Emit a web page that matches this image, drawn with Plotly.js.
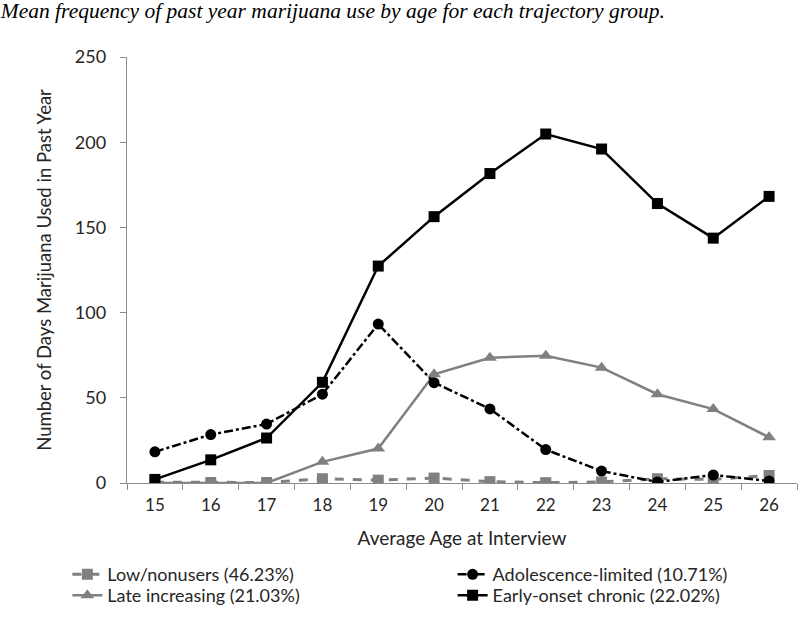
<!DOCTYPE html>
<html>
<head>
<meta charset="utf-8">
<script src="https://cdn.plot.ly/plotly-3.0.1.min.js"></script>
<style>
  html, body { margin: 0; padding: 0; background: #fff; }
  #chart { width: 800px; height: 617px; }
</style>
</head>
<body>
<div id="chart"></div>
<script>
const ages = [15, 16, 17, 18, 19, 20, 21, 22, 23, 24, 25, 26];
const lowNonusers = [0.5, 0.3, 0.3, 2.5, 1.7, 2.9, 0.8, 0.2, 0.6, 2.5, 2.1, 4.4];
const lateIncreasing = [0, 0, 0, 12.4, 20.2, 63.8, 73.5, 74.7, 67.7, 52.1, 43.4, 26.8];
const adolescenceLimited = [18.3, 28.4, 34.6, 52.1, 93.3, 58.9, 43.5, 19.6, 7.0, 0.6, 4.7, 1.2];
const earlyOnsetChronic = [2.1, 13.6, 26.4, 59.1, 127.3, 156.3, 181.6, 204.8, 196.0, 164.0, 143.7, 168.2];
const seriesNames = [
  "Low/nonusers (46.23%)",
  "Adolescence-limited (10.71%)",
  "Late increasing (21.03%)",
  "Early-onset chronic (22.02%)"
];
const yTicks = [0, 50, 100, 150, 200, 250];

const gray = "#808080";
const black = "#000000";
const boundaries = ages.map(a => a - 0.5).concat([ages[ages.length - 1] + 0.5]);

const traces = [
  {
    x: ages, y: lowNonusers, name: seriesNames[0], legend: "legend",
    mode: "lines+markers", type: "scatter",
    line: { color: gray, width: 3, dash: "dash" },
    marker: { symbol: "square", size: 11, color: gray }
  },
  {
    x: ages, y: lateIncreasing, name: seriesNames[2], legend: "legend3",
    mode: "lines+markers", type: "scatter",
    line: { color: gray, width: 2.5 },
    marker: { symbol: "triangle-up", size: 12, color: gray }
  },
  {
    x: ages, y: adolescenceLimited, name: seriesNames[1], legend: "legend2",
    mode: "lines+markers", type: "scatter",
    line: { color: black, width: 2.5, dash: "dashdot" },
    marker: { symbol: "circle", size: 11, color: black }
  },
  {
    x: ages, y: earlyOnsetChronic, name: seriesNames[3], legend: "legend4",
    mode: "lines+markers", type: "scatter",
    line: { color: black, width: 2.5 },
    marker: { symbol: "square", size: 11, color: black }
  }
];

const fam = "Lato, 'Open Sans', sans-serif";
const tickFont = { family: fam, size: 17, color: "#262626" };
const legendFont = { family: fam, size: 18, color: "#262626" };

function legendAt(x, y) {
  return {
    orientation: "h", x: x, xanchor: "left", y: y, yanchor: "middle",
    itemwidth: 30, font: legendFont, bgcolor: "rgba(0,0,0,0)", borderwidth: 0
  };
}

const layout = {
  width: 800, height: 617,
  paper_bgcolor: "#ffffff", plot_bgcolor: "#ffffff",
  margin: { l: 127, r: 3, t: 57, b: 132 },
  showlegend: true,
  title: {
    text: "<i>Mean frequency of past year marijuana use by age for each trajectory group.</i>",
    font: { family: "'Liberation Serif', 'Times New Roman', serif", size: 21.5, color: "#000" },
    x: 0.001, xref: "container", xanchor: "left",
    y: 0.995, yref: "container", yanchor: "top"
  },
  xaxis: {
    range: [14.5, 26.5],
    tickvals: ages, ticktext: ages.map(String),
    ticks: "", showgrid: false, zeroline: false,
    showline: true, linecolor: "#8c8c8c", linewidth: 1.2,
    tickfont: tickFont,
    ticklabelstandoff: 6,
    minor: { tickvals: boundaries, ticks: "outside", ticklen: 6, tickcolor: "#8c8c8c", showgrid: false },
    title: { text: "Average Age at Interview", font: Object.assign({}, tickFont, { size: 19 }), standoff: 18 },
    fixedrange: true
  },
  yaxis: {
    range: [0, 250],
    tickvals: yTicks,
    ticks: "outside", ticklen: 6, tickcolor: "#8c8c8c",
    showgrid: false, zeroline: false,
    showline: true, linecolor: "#8c8c8c", linewidth: 1.2,
    tickfont: Object.assign({}, tickFont, { size: 18 }),
    ticklabelstandoff: 10,
    title: { text: "Number of Days Marijuana Used in Past Year", font: Object.assign({}, tickFont, { size: 18.5 }), standoff: 18 },
    fixedrange: true
  },
  legend: legendAt(-0.089, -0.215),
  legend2: legendAt(0.486, -0.215),
  legend3: legendAt(-0.089, -0.264),
  legend4: legendAt(0.486, -0.264)
};

Plotly.newPlot("chart", traces, layout, { displayModeBar: false, staticPlot: true });
</script>
</body>
</html>
